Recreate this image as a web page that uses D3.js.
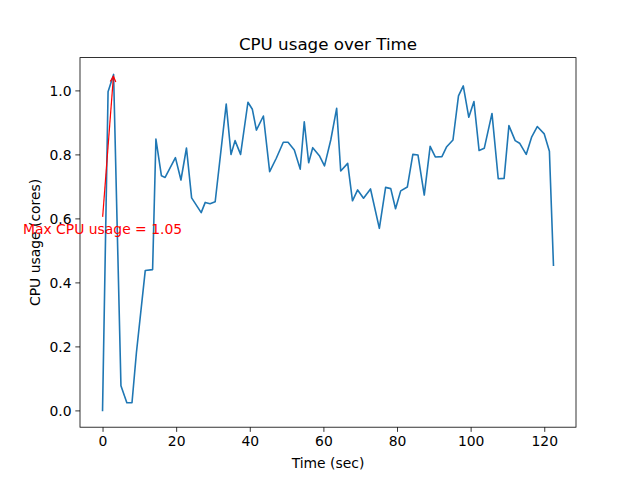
<!DOCTYPE html>
<html>
<head>
<meta charset="utf-8">
<script src="https://cdn.jsdelivr.net/npm/d3@7"></script>
<style>
  body { margin: 0; background: #fff; }
  text { font-family: "DejaVu Sans", sans-serif; }
</style>
</head>
<body>
<svg id="chart" width="640" height="480"></svg>
<script>
const timeSec = [0, 1.5, 3.0, 5.0, 6.6, 8.0, 9.2, 11.6, 13.6, 14.5,
  16.0, 17.0, 19.8, 21.3, 22.8, 24.2, 26.8, 27.9, 29.2, 30.6,
  33.6, 34.9, 36.0, 37.5, 39.5, 40.7, 41.8, 43.7, 45.4, 47.2,
  49.1, 50.4, 52.1, 53.7, 54.8, 56.0, 57.1, 58.9, 60.3, 62.0,
  63.6, 64.7, 66.6, 67.9, 69.3, 70.9, 72.8, 75.2, 76.9, 78.3,
  79.6, 81.0, 82.8, 84.3, 85.7, 87.4, 89.0, 90.4, 92.2, 93.5,
  95.2, 96.7, 98.0, 99.5, 100.9, 102.3, 103.7, 105.8, 107.5, 109.1,
  110.4, 112.1, 113.3, 115.1, 116.6, 118.1, 120.0, 121.4, 122.5];
const cpuUsage = [0, 0.996, 1.05, 0.077, 0.024, 0.024, 0.18, 0.437, 0.44, 0.848,
  0.733, 0.728, 0.79, 0.72, 0.82, 0.664, 0.618, 0.650, 0.646, 0.652,
  0.957, 0.80, 0.843, 0.80, 0.963, 0.941, 0.876, 0.92, 0.746, 0.788,
  0.838, 0.838, 0.814, 0.754, 0.902, 0.774, 0.821, 0.796, 0.764, 0.845,
  0.944, 0.748, 0.772, 0.655, 0.689, 0.663, 0.692, 0.569, 0.697, 0.693,
  0.630, 0.686, 0.698, 0.80, 0.798, 0.673, 0.825, 0.792, 0.793, 0.824,
  0.845, 0.983, 1.014, 0.916, 0.965, 0.812, 0.819, 0.928, 0.724, 0.725,
  0.89, 0.843, 0.835, 0.80, 0.855, 0.887, 0.864, 0.81, 0.454];
const xTicks = [0, 20, 40, 60, 80, 100, 120];
const yTicks = [0.0, 0.2, 0.4, 0.6, 0.8, 1.0];
const annotationTextPos = [0, 0.6];
const titleText = "CPU usage over Time";
const xLabelText = "Time (sec)";
const yLabelText = "CPU usage (cores)";

(function () {
const mLeft = 80, mRight = 576, mTop = 57.6, mBottom = 427.2;
const fs = "13.9px", fsTitle = "16.7px";
const svg = d3.select("#chart");

const data = timeSec.map((t, i) => ({ t, v: cpuUsage[i] }));
const tExt = d3.extent(timeSec), vExt = d3.extent(cpuUsage);
const tm = (tExt[1] - tExt[0]) * 0.05, vm = (vExt[1] - vExt[0]) * 0.05;
const x = d3.scaleLinear().domain([tExt[0] - tm, tExt[1] + tm]).range([mLeft, mRight]);
const y = d3.scaleLinear().domain([vExt[0] - vm, vExt[1] + vm]).range([mBottom, mTop]);

// line
svg.append("path")
  .datum(data)
  .attr("fill", "none")
  .attr("stroke", "#1f77b4")
  .attr("stroke-width", 1.6)
  .attr("stroke-linejoin", "round")
  .attr("stroke-linecap", "square")
  .attr("d", d3.line().x(d => x(d.t)).y(d => y(d.v)));

// axes
const xAxis = d3.axisBottom(x).tickValues(xTicks).tickFormat(d3.format("d")).tickSizeOuter(0).tickSize(4.67).tickPadding(3.5);
const yAxis = d3.axisLeft(y).tickValues(yTicks).tickFormat(d3.format(".1f")).tickSizeOuter(0).tickSize(4.67).tickPadding(3.5);

const gx = svg.append("g").attr("transform", `translate(0,${mBottom})`).call(xAxis);
const gy = svg.append("g").attr("transform", `translate(${mLeft},0)`).call(yAxis);
[gx, gy].forEach(g => {
  g.select(".domain").remove();
  g.selectAll(".tick line").attr("stroke", "#000").attr("stroke-width", 0.8);
  g.selectAll(".tick text").attr("fill", "#000").attr("font-size", fs).attr("font-family", "DejaVu Sans, sans-serif");
});
gx.selectAll(".tick text").attr("dy", "0.71em").attr("y", 9.3);
gy.selectAll(".tick text").attr("dy", "0.35em").attr("x", -8.5);

// frame
svg.append("rect")
  .attr("x", mLeft).attr("y", mTop)
  .attr("width", mRight - mLeft).attr("height", mBottom - mTop)
  .attr("fill", "none").attr("stroke", "#000").attr("stroke-width", 0.8);

// labels
svg.append("text").attr("x", (mLeft + mRight) / 2).attr("y", 49.5)
  .attr("text-anchor", "middle").attr("font-size", fsTitle).text(titleText);
svg.append("text").attr("x", (mLeft + mRight) / 2).attr("y", 467.5)
  .attr("text-anchor", "middle").attr("font-size", fs).text(xLabelText);
svg.append("text")
  .attr("transform", `translate(39.5,${(mTop + mBottom) / 2}) rotate(-90)`)
  .attr("text-anchor", "middle").attr("font-size", fs).text(yLabelText);

// annotation
const maxIdx = d3.maxIndex(cpuUsage);
const maxT = timeSec[maxIdx], maxV = cpuUsage[maxIdx];
const ax0 = x(annotationTextPos[0]), ay0 = y(annotationTextPos[1]);
const ax1 = x(maxT), ay1 = y(maxV);
const dx = ax1 - ax0, dy = ay1 - ay0, len = Math.hypot(dx, dy);
const ux = dx / len, uy = dy / len;
const sx = ax0 + ux * 1.5, sy = ay0 + uy * 1.5;
const ex = ax1 - ux * 2, ey = ay1 - uy * 2;
svg.append("line").attr("x1", sx).attr("y1", sy).attr("x2", ex).attr("y2", ey)
  .attr("stroke", "red").attr("stroke-width", 1.2);
const hl = 5.3, hw = 2.8;
const bx = ex - ux * hl, by = ey - uy * hl;
svg.append("path")
  .attr("d", `M${bx - uy * hw},${by + ux * hw} L${ex},${ey} L${bx + uy * hw},${by - ux * hw}`)
  .attr("fill", "none").attr("stroke", "red").attr("stroke-width", 1.2);
svg.append("text").attr("x", ax0).attr("y", ay0 + 15.3)
  .attr("text-anchor", "middle").attr("font-size", fs).attr("fill", "red")
  .text(`Max CPU usage = ${maxV.toFixed(2)}`);
})();
</script>
</body>
</html>
